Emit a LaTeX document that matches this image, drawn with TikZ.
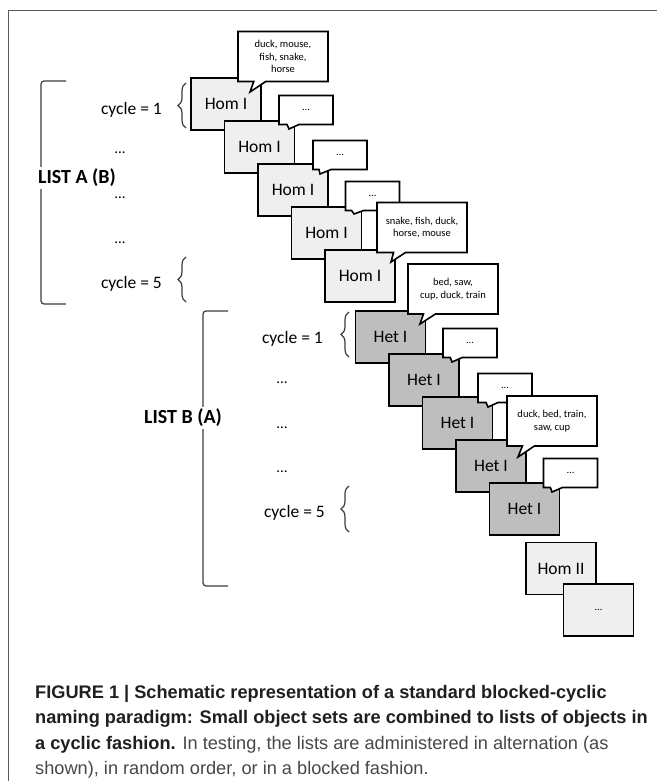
\documentclass[tikz,border=0pt]{standalone}
\usepackage{fontspec}
\setmainfont{Carlito}
\newfontfamily\capfont{Liberation Sans}
\usetikzlibrary{shapes.callouts,decorations.pathreplacing}

\definecolor{homgray}{HTML}{EFEFEF}
\definecolor{hetgray}{HTML}{BEBEBE}
\definecolor{framegray}{HTML}{5A5A5A}
\definecolor{bracegray}{HTML}{3C3C3C}

\tikzset{
  hom/.style={draw, line width=1.6pt, fill=homgray, minimum width=70pt,
    minimum height=52pt, inner sep=0pt, font=\fontsize{17.5}{20}\selectfont},
  het/.style={hom, fill=hetgray},
  talk/.style={rectangle callout, draw, line width=1.6pt, fill=white,
    align=center, inner sep=0pt, callout pointer width=12pt,
    font=\fontsize{10.5}{12.5}\selectfont},
  bigtalk/.style={talk, minimum width=90pt, minimum height=50pt},
  smalltalk/.style={talk, minimum width=54pt, minimum height=29pt},
  cyc/.style={font=\fontsize{17.5}{20}\selectfont, inner sep=0pt, anchor=base east},
  dots/.style={font=\fontsize{15}{18}\selectfont, inner sep=0pt, anchor=base},
  listname/.style={font=\fontsize{20}{24}\selectfont\bfseries, fill=white, inner sep=2pt},
  cycbrace/.style={draw=bracegray, line width=1.2pt, decorate,
    decoration={brace, amplitude=8pt}},
  bracket/.style={draw=bracegray, line width=1.2pt, rounded corners=3pt},
  capline/.style={font=\capfont\fontsize{18.2}{25}\selectfont, inner sep=0pt, anchor=base west}
}

\begin{document}
\begin{tikzpicture}[x=1pt, y=-1pt]
  \useasboundingbox (0,0) rectangle (657,781);
  % frame
  \draw [framegray, line width=1pt] (8,781) -- (8,11) -- (657,11);

  % list A
  \draw [bracket] (66,81) -- (41,81) -- (41,304) -- (66,304);
  \node [listname] (listA) at (77,178) {LIST A (B)};
  \node [cyc] (cycA1) at (162,114) {cycle = 1};
  \node [dots] (dotsA1) at (120,153) {...};
  \node [dots] (dotsA2) at (120,198) {...};
  \node [dots] (dotsA3) at (120,243) {...};
  \node [cyc] (cycA5) at (162,288) {cycle = 5};
  \draw [cycbrace] (186,128) -- (186,83);
  \draw [cycbrace] (186,302) -- (186,257);

  % list B
  \draw [bracket] (228,311) -- (203,311) -- (203,586) -- (228,586);
  \node [listname] (listB) at (183,418) {LIST B (A)};
  \node [cyc] (cycB1) at (323,343) {cycle = 1};
  \node [dots] (dotsB1) at (282,383) {...};
  \node [dots] (dotsB2) at (282,428) {...};
  \node [dots] (dotsB3) at (282,472) {...};
  \node [cyc] (cycB5) at (325,517) {cycle = 5};
  \draw [cycbrace] (349,357) -- (349,312);
  \draw [cycbrace] (349,532) -- (349,486);

  % homogeneous sets
  \node [hom] (hom1) at (226,104) {Hom I};
  \node [bigtalk, callout absolute pointer={(250,92)}] (talk1) at (283,56.5)
    {duck, mouse,\\fish, snake,\\horse};
  \node [hom] (hom2) at (259.5,147) {Hom I};
  \node [smalltalk, callout absolute pointer={(289,129)}] (talk2) at (306,110) {...};
  \node [hom] (hom3) at (293,190) {Hom I};
  \node [smalltalk, callout absolute pointer={(320,174)}] (talk3) at (340,155) {...};
  \node [hom] (hom4) at (326.5,233) {Hom I};
  \node [smalltalk, callout absolute pointer={(354,214)}] (talk4) at (372.5,196) {...};
  \node [hom] (hom5) at (360,276) {Hom I};
  \node [bigtalk, callout absolute pointer={(391,262)}] (talk5) at (422,227.5)
    {snake, fish, duck,\\horse, mouse};

  % heterogeneous sets
  \node [het] (het1) at (390.5,337) {Het I};
  \node [bigtalk, callout absolute pointer={(420,324)}] (talk6) at (453,289)
    {bed, saw,\\cup, duck, train};
  \node [het] (het2) at (424,380) {Het I};
  \node [smalltalk, callout absolute pointer={(452,362)}] (talk7) at (470,343) {...};
  \node [het] (het3) at (457.5,423) {Het I};
  \node [smalltalk, callout absolute pointer={(488,407)}] (talk8) at (505,388) {...};
  \node [het] (het4) at (491,466) {Het I};
  \node [bigtalk, callout absolute pointer={(518,457)}] (talk9) at (552,421)
    {duck, bed, train,\\saw, cup};
  \node [het] (het5) at (524.5,509) {Het I};
  \node [smalltalk, callout absolute pointer={(552,492)}] (talk10) at (570.5,473) {...};

  % next list
  \node [hom] (hom6) at (561,568.5) {Hom II};
  \node [hom, font=\fontsize{10.5}{12}\selectfont] (more) at (598.5,610) {...};

  % caption
  \node [capline, text=black!88] (cap1) at (35,698)
    {\bfseries FIGURE 1 | Schematic representation of a standard blocked-cyclic};
  \node [capline, text=black!88] (cap2) at (35,723.5)
    {\bfseries naming paradigm: Small object sets are combined to lists of objects in};
  \node [capline, text=black!72] (cap3) at (35,749)
    {{\bfseries\color{black!88}a cyclic fashion.} In testing, the lists are administered in alternation (as};
  \node [capline, text=black!72] (cap4) at (35,774.5)
    {shown), in random order, or in a blocked fashion.};
\end{tikzpicture}
\end{document}
